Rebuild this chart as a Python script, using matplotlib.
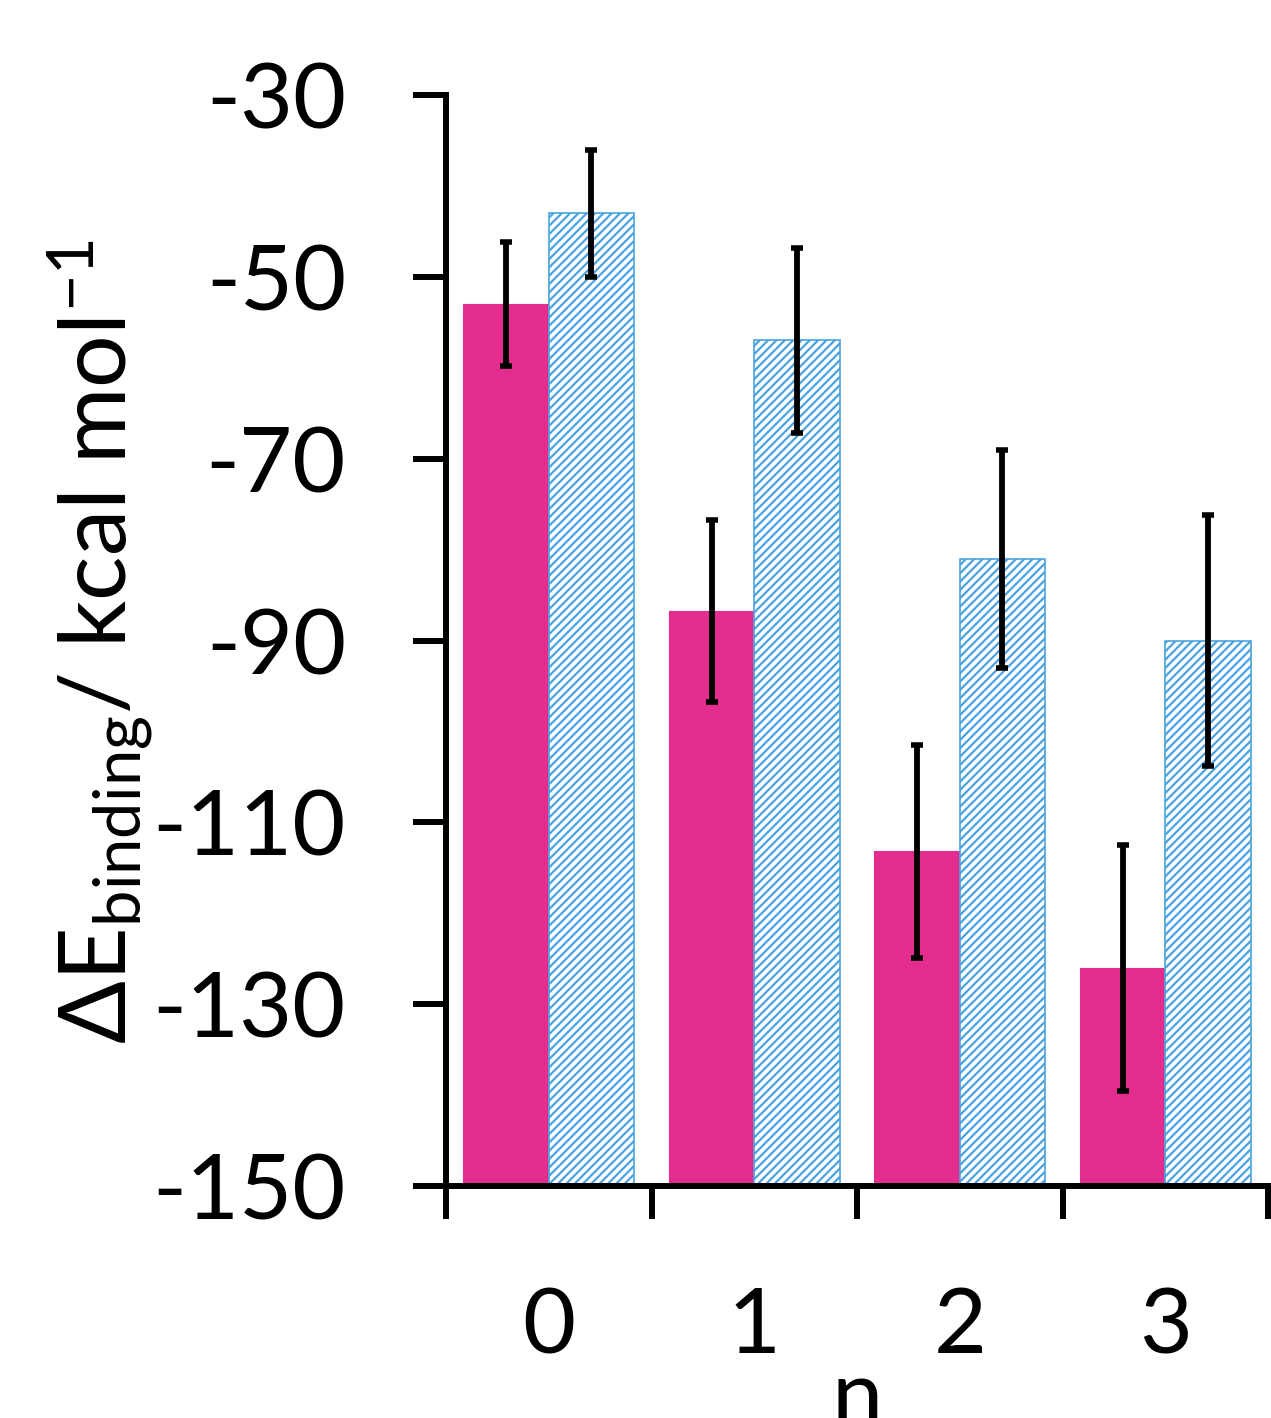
import matplotlib
matplotlib.use("Agg")
import matplotlib.pyplot as plt
import numpy as np

plt.rcParams['font.family'] = ['Lato', 'DejaVu Sans']
plt.rcParams['mathtext.fontset'] = 'custom'
plt.rcParams['mathtext.rm'] = 'Lato'
plt.rcParams['mathtext.it'] = 'Lato:italic'
plt.rcParams['hatch.linewidth'] = 1.6
plt.rcParams['hatch.color'] = '#4AA3DF'

categories = ['0', '1', '2', '3']
pink_vals = [-53.0, -86.8, -113.2, -126.0]
pink_err = [6.8, 10.0, 11.7, 13.5]
blue_vals = [-43.0, -57.0, -81.0, -90.0]
blue_err = [7.0, 10.2, 12.0, 13.8]
yticks = [-30, -50, -70, -90, -110, -130, -150]

pink = '#E22D8E'
blue = '#4AA3DF'

fig = plt.figure(figsize=(12.71, 14.18), dpi=100)
ax = fig.add_axes([446/1271, 0.1636, 822/1271, 0.7694])

x = np.arange(len(categories))
w = 0.415
base = -150
ax.bar(x - w/2, np.array(pink_vals) - base, bottom=base, width=w, color=pink,
       edgecolor=pink, linewidth=0.8, zorder=2)
ax.bar(x + w/2, np.array(blue_vals) - base, bottom=base, width=w, color='white',
       edgecolor=blue, hatch='////', linewidth=1.2, zorder=2)
ax.errorbar(x - w/2, pink_vals, yerr=pink_err, fmt='none', ecolor='black',
            elinewidth=4.2, capsize=4.5, capthick=4.0, zorder=3)
ax.errorbar(x + w/2, blue_vals, yerr=blue_err, fmt='none', ecolor='black',
            elinewidth=4.2, capsize=4.5, capthick=4.0, zorder=3)

ax.set_xlim(-0.5, 3.5)
ax.set_ylim(-150, -30)
ax.set_yticks(yticks)
ax.set_yticklabels([str(v) for v in yticks])
ax.tick_params(axis='y', direction='out', length=24, width=4.3, labelsize=66, pad=48)

ax.set_xticks(x)
ax.set_xticklabels(categories)
ax.set_xticks(np.arange(-0.5, 4.0, 1.0), minor=True)
ax.tick_params(axis='x', which='major', length=0, labelsize=66, pad=72)
ax.tick_params(axis='x', which='minor', direction='out', length=24, width=4.3)

for s in ['top', 'right']:
    ax.spines[s].set_visible(False)
for s in ['left', 'bottom']:
    ax.spines[s].set_linewidth(4.3)

ax.set_xlabel('n', fontsize=66, labelpad=-8)

fig.text(100/1271, 1 - 642/1418, r'ΔE$_{\mathrm{binding}}$/ kcal mol$^{\mathrm{-1}}$',
         rotation=90, ha='center', va='center', fontsize=67)

fig.savefig('out.png', dpi=100)
